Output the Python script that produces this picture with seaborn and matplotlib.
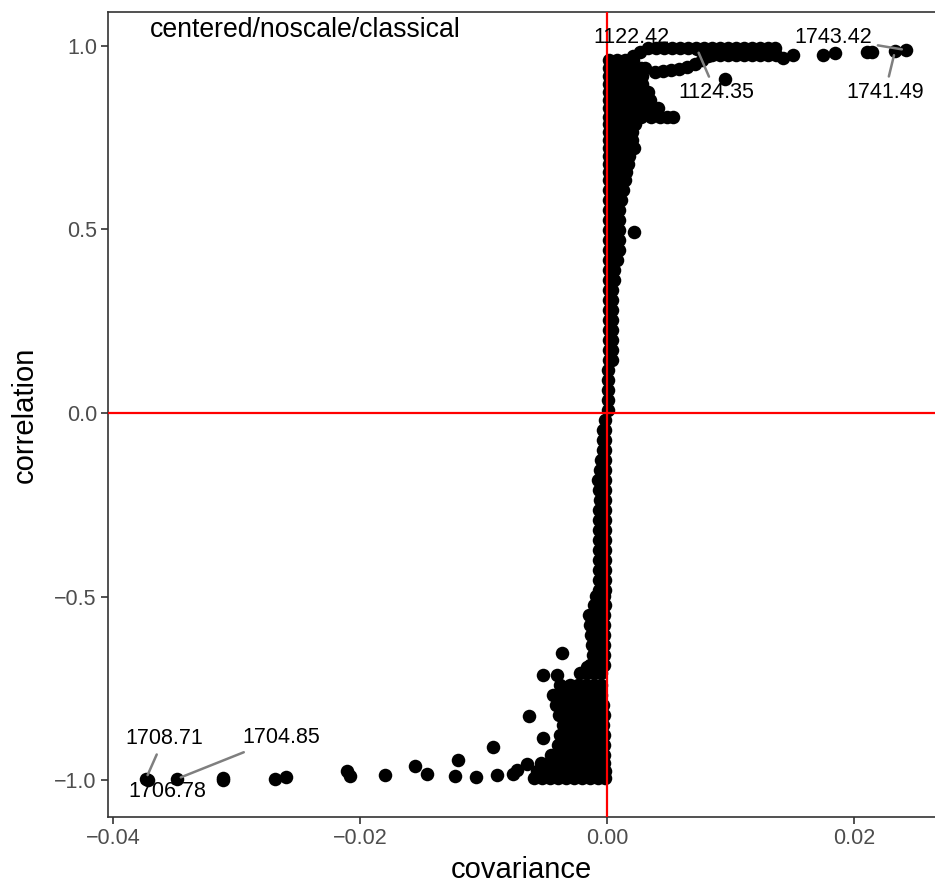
import matplotlib
matplotlib.use("Agg")
import matplotlib.pyplot as plt
import seaborn as sns
import pandas as pd

sns.set_theme(style="ticks")
plt.rcParams['font.family'] = ['Liberation Sans', 'DejaVu Sans']

# ---------------- data (covariance, correlation) ----------------
# isolated points in the negative tail
tail_neg_cov = [-0.03733, -0.03720, -0.03482, -0.03109, -0.03109, -0.02688, -0.02599,
                -0.02105, -0.02081, -0.01798, -0.01555, -0.01457, -0.01206, -0.01231,
                -0.01061, -0.00923, -0.00891, -0.00761, -0.00648, -0.00729, -0.00518,
                -0.00632, -0.00364]
tail_neg_corr = [-0.997, -0.999, -0.997, -0.995, -0.999, -0.997, -0.992,
                 -0.975, -0.989, -0.986, -0.962, -0.984, -0.946, -0.989,
                 -0.992, -0.910, -0.986, -0.984, -0.956, -0.973, -0.886,
                 -0.826, -0.654]

# isolated points in the positive tail
tail_pos_cov = [0.02421, 0.02332, 0.02146, 0.02105, 0.01846, 0.01749, 0.01506,
                0.01425, 0.01360, 0.00955, 0.00534, 0.00219, 0.00729]
tail_pos_corr = [0.989, 0.986, 0.984, 0.984, 0.981, 0.975, 0.975,
                 0.967, 0.995, 0.910, 0.807, 0.493, 0.992]

# upper ridge near correlation 1
ridge_cov = [0.00105, 0.00154, 0.00211, 0.00267,
             0.00332, 0.00397, 0.00462, 0.00526, 0.00591, 0.00656, 0.00721, 0.00785,
             0.00850, 0.00915, 0.00980, 0.01045, 0.01109, 0.01174, 0.01239, 0.01304,
             0.00850, 0.00915, 0.00980, 0.01045, 0.01109, 0.01174, 0.01239, 0.01304, 0.01368,
             0.00389, 0.00453, 0.00518, 0.00583, 0.00648, 0.00713, 0.00769, 0.00818]
ridge_corr = [0.935, 0.956, 0.973, 0.984,
              0.995, 0.995, 0.995, 0.995, 0.995, 0.995, 0.995, 0.995,
              0.995, 0.995, 0.995, 0.995, 0.995, 0.995, 0.995, 0.995,
              0.975, 0.975, 0.975, 0.975, 0.975, 0.975, 0.975, 0.975, 0.975,
              0.929, 0.932, 0.935, 0.937, 0.943, 0.951, 0.962, 0.973]

# dense central band: correlation level -> covariances observed at that level
band_upper = [
    (0.962, [0.00016, 0.00081, 0.00146, 0.00211]),
    (0.940, [0.00016, 0.00081, 0.00146, 0.00211, 0.00275, 0.00308]),
    (0.918, [0.00016, 0.00081, 0.00146, 0.00211, 0.00283]),
    (0.896, [0.00016, 0.00081, 0.00146, 0.00211, 0.00283]),
    (0.875, [0.00016, 0.00081, 0.00146, 0.00211, 0.00275, 0.00332]),
    (0.853, [0.00016, 0.00081, 0.00146, 0.00211, 0.00275, 0.00348]),
    (0.831, [0.00016, 0.00081, 0.00146, 0.00211, 0.00275, 0.00348, 0.00413]),
    (0.807, [0.00016, 0.00081, 0.00146, 0.00211, 0.00275, 0.00356, 0.00429, 0.00486]),
    (0.787, [0.00016, 0.00081, 0.00146, 0.00227]),
    (0.766, [0.00016, 0.00081, 0.00146, 0.00200]),
    (0.744, [0.00016, 0.00081, 0.00146, 0.00200]),
    (0.722, [0.00016, 0.00081, 0.00146, 0.00219]),
    (0.700, [0.00016, 0.00081, 0.00146, 0.00178]),
    (0.678, [0.00016, 0.00081, 0.00146, 0.00170]),
    (0.657, [0.00016, 0.00081, 0.00154]),
    (0.635, [0.00016, 0.00081, 0.00146]),
    (0.608, [0.00016, 0.00081, 0.00130]),
    (0.580, [0.00016, 0.00073, 0.00113]),
    (0.553, [0.00016, 0.00065, 0.00097]),
    (0.526, [0.00016, 0.00065, 0.00097]),
    (0.499, [0.00016, 0.00065, 0.00097]),
    (0.471, [0.00016, 0.00065, 0.00097]),
    (0.444, [0.00016, 0.00065, 0.00097]),
    (0.417, [0.00016, 0.00057, 0.00081]),
    (0.390, [0.00016, 0.00057]),
    (0.362, [0.00016, 0.00057]),
    (0.335, [0.00016, 0.00040]),
    (0.308, [0.00016, 0.00040]),
    (0.281, [0.00016, 0.00040]),
    (0.253, [0.00016, 0.00040]),
    (0.226, [0.00016, 0.00040]),
    (0.199, [0.00016, 0.00040]),
    (0.172, [0.00016, 0.00040]),
    (0.144, [0.00016, 0.00040]),
    (0.117, [0.00008]),
    (0.090, [0.00008]),
    (0.063, [0.00008]),
    (0.035, [0.00008]),
    (0.008, [0.00008]),
]
band_lower = [
    (-0.019, [-0.00016]),
    (-0.046, [-0.00032, -0.00016]),
    (-0.074, [-0.00032, -0.00016]),
    (-0.101, [-0.00032, -0.00016]),
    (-0.128, [-0.00049, -0.00016]),
    (-0.155, [-0.00057, -0.00016]),
    (-0.183, [-0.00073, -0.00016]),
    (-0.210, [-0.00065, -0.00016]),
    (-0.237, [-0.00057, -0.00016]),
    (-0.264, [-0.00065, -0.00016]),
    (-0.292, [-0.00065, -0.00016]),
    (-0.319, [-0.00065, -0.00016]),
    (-0.346, [-0.00065, -0.00016]),
    (-0.373, [-0.00065, -0.00016]),
    (-0.401, [-0.00065, -0.00016]),
    (-0.428, [-0.00065, -0.00016]),
    (-0.455, [-0.00065, -0.00016]),
    (-0.482, [-0.00065, -0.00016]),
    (-0.499, [-0.00089, -0.00024]),
    (-0.523, [-0.00105, -0.00057, -0.00016]),
    (-0.550, [-0.00146, -0.00089, -0.00024]),
    (-0.578, [-0.00138, -0.00081, -0.00024]),
    (-0.605, [-0.00130, -0.00073, -0.00024]),
    (-0.632, [-0.00121, -0.00073, -0.00024]),
    (-0.659, [-0.00113, -0.00065, -0.00024]),
    (-0.687, [-0.00138, -0.00081, -0.00024]),
    (-0.692, [-0.00162]),
    (-0.708, [-0.00219, -0.00162, -0.00105, -0.00049]),
    (-0.714, [-0.00518, -0.00405]),
    (-0.741, [-0.00381, -0.00300, -0.00235, -0.00170, -0.00105, -0.00049]),
    (-0.747, [-0.00324]),
    (-0.768, [-0.00437, -0.00372, -0.00308, -0.00243, -0.00178, -0.00113, -0.00049]),
    (-0.796, [-0.00413, -0.00348, -0.00283, -0.00219, -0.00154, -0.00089, -0.00032]),
    (-0.823, [-0.00389, -0.00324, -0.00259, -0.00194, -0.00130, -0.00065, -0.00024]),
    (-0.850, [-0.00356, -0.00291, -0.00227, -0.00162, -0.00097, -0.00032]),
    (-0.877, [-0.00381, -0.00316, -0.00251, -0.00186, -0.00121, -0.00057, -0.00024]),
    (-0.905, [-0.00397, -0.00332, -0.00267, -0.00202, -0.00138, -0.00073, -0.00024]),
    (-0.932, [-0.00453, -0.00389, -0.00324, -0.00259, -0.00194, -0.00130, -0.00065, -0.00024]),
    (-0.954, [-0.00534, -0.00470, -0.00405, -0.00340, -0.00275, -0.00210, -0.00146, -0.00081, -0.00024]),
    (-0.975, [-0.00567, -0.00502, -0.00437, -0.00372, -0.00308, -0.00243, -0.00178, -0.00113, -0.00049, -0.00016]),
    (-0.995, [-0.00591, -0.00526, -0.00462, -0.00397, -0.00332, -0.00267, -0.00202, -0.00138, -0.00073, -0.00016]),
]

# labelled observations
label_names = ["1122.42", "1124.35", "1743.42", "1741.49", "1708.71", "1706.78", "1704.85"]
label_cov = [0.00332, 0.00729, 0.02421, 0.02332, -0.03733, -0.03720, -0.03482]
label_corr = [0.995, 0.992, 0.989, 0.986, -0.997, -0.999, -0.997]
label_text_cov = [0.0020, 0.00883, 0.0183, 0.0225, -0.03587, -0.03563, -0.0264]
label_text_corr = [1.022, 0.872, 1.022, 0.872, -0.886, -1.030, -0.884]
label_segment = [False, True, True, True, True, False, True]

x_ticks = [-0.04, -0.02, 0.00, 0.02]
x_ticklabels = ["\u22120.04", "\u22120.02", "0.00", "0.02"]
y_ticks = [-1.0, -0.5, 0.0, 0.5, 1.0]
y_ticklabels = ["\u22121.0", "\u22120.5", "0.0", "0.5", "1.0"]

# ---------------- assemble ----------------
cov_all = list(tail_neg_cov) + list(tail_pos_cov) + list(ridge_cov)
corr_all = list(tail_neg_corr) + list(tail_pos_corr) + list(ridge_corr)
for level, covs in band_upper + band_lower:
    cov_all += covs
    corr_all += [level] * len(covs)
df = pd.DataFrame({"covariance": cov_all, "correlation": corr_all})

# ---------------- plot ----------------
fig = plt.figure(figsize=(9.35, 8.86), dpi=100)
ax = fig.add_axes([108 / 935, 1 - 817 / 886, 1 - 108 / 935, (817 - 12) / 886])

sns.scatterplot(data=df, x="covariance", y="correlation", ax=ax,
                color="black", s=95, linewidth=0, zorder=3)

ax.axvline(0, color="red", lw=1.6, zorder=4)
ax.axhline(0, color="red", lw=1.6, zorder=4)

for name, px, py, tx, ty, seg in zip(label_names, label_cov, label_corr,
                                     label_text_cov, label_text_corr, label_segment):
    props = dict(arrowstyle="-", color="#7f7f7f", lw=1.8, shrinkA=2, shrinkB=3) if seg else None
    ax.annotate(name, xy=(px, py), xytext=(tx, ty), textcoords="data",
                ha="center", va="center", fontsize=15.5, color="black",
                arrowprops=props, zorder=5)

ax.text(0.238, 0.978, "centered/noscale/classical", transform=ax.transAxes,
        ha="center", va="center", fontsize=19.2, color="black", zorder=6)

ax.set_xlim(-0.0404, 0.02656)
ax.set_ylim(-1.1008, 1.0926)
ax.set_xticks(x_ticks)
ax.set_xticklabels(x_ticklabels)
ax.set_yticks(y_ticks)
ax.set_yticklabels(y_ticklabels)
ax.tick_params(axis="both", direction="out", length=5, width=1.2, color="#333333",
               labelsize=15.5, labelcolor="#4d4d4d", pad=3)
ax.set_xlabel("covariance", fontsize=21, color="black", labelpad=5)
ax.set_ylabel("correlation", fontsize=21, color="black", labelpad=11)

for side in ["left", "bottom", "top"]:
    ax.spines[side].set_color("#333333")
    ax.spines[side].set_linewidth(1.2)
ax.spines["right"].set_visible(False)
ax.set_facecolor("white")
fig.patch.set_facecolor("white")

fig.savefig("out.png", dpi=100)
